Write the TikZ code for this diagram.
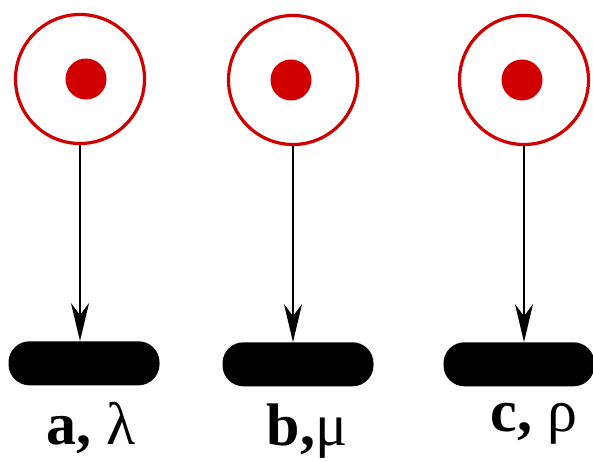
\documentclass[tikz,border=0pt]{standalone}
\usepackage{fontspec}
\setmainfont{Liberation Serif}
\usepackage{tikz}
\usetikzlibrary{positioning,arrows.meta}
\definecolor{placered}{RGB}{208,0,0}

\begin{document}
\begin{tikzpicture}[x=1pt, y=-1pt,
node distance=196pt,
place/.style={circle, draw=placered, line width=3.2pt, minimum size=129pt, inner sep=0pt},
token/.style={circle, fill=placered, minimum size=41pt, inner sep=0pt},
trans/.style={fill=black, rounded corners=21pt, minimum width=151pt, minimum height=44pt, inner sep=0pt},
lbl/.style={font=\fontsize{60}{64}\selectfont, inner sep=0pt, anchor=north},
arrow/.style={-{Stealth[length=38pt, width=18pt, inset=12pt]}, line width=2.2pt}
]
\useasboundingbox (0,0) rectangle (593,462);
% places with one token each
\node[place] (pa) at (80,79) {};
\node[place] (pb) at (293,80) {};
\node[place] (pc) at (524,80) {};
\node[token] (ka) at (86,79) {};
\node[token] (kb) at (291,80) {};
\node[token] (kc) at (522,80) {};
% transitions
\node[trans, below=of pa, xshift=4pt] (ta) {};
\node[trans, below=of pb, xshift=5pt] (tb) {};
\node[trans, below=of pc, xshift=-5pt] (tc) {};
\node[lbl, below=17pt of ta, xshift=7pt] (la) {\textbf{a,} λ};
\node[lbl, below=17pt of tb, xshift=9pt] (lb) {\textbf{b,}μ};
\node[lbl, below=17pt of tc, xshift=15pt] (lc) {\textbf{c,} ρ};
\draw[arrow] (pa.south) -- (pa.south |- ta.north);
\draw[arrow] (pb.south) -- (pb.south |- tb.north);
\draw[arrow] (pc.south) -- (pc.south |- tc.north);
\end{tikzpicture}
\end{document}
